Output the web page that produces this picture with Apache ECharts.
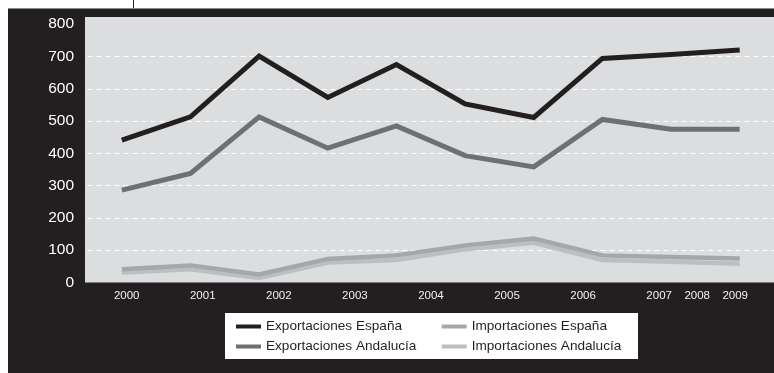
<!DOCTYPE html>
<html>
<head>
<meta charset="utf-8">
<script src="https://cdn.jsdelivr.net/npm/echarts@6/dist/echarts.min.js"></script>
<style>
  html, body { margin: 0; padding: 0; background: #fff; }
  #chart { width: 774px; height: 373px; }
</style>
</head>
<body>
<div id="chart"></div>
<script>
// datos (miles de millones aprox.)
const years = ['2000', '2001', '2002', '2003', '2004', '2005', '2006', '2007', '2008', '2009'];
const exportEspana = [441, 513, 701, 573, 675, 553, 511, 694, 706, 720];
const exportAndalucia = [286, 338, 513, 416, 485, 393, 358, 505, 475, 475];
const importEspana = [41, 53, 25, 73, 84, 115, 136, 84, 79, 74];
const importAndalucia = [31, 41, 14, 62, 70, 103, 123, 70, 64, 58];
const yearTicks = ['2000', '2001', '2002', '2003', '2004', '2005', '2006', '2007', '2008', '2009'];

// the year labels in the original sit on their own uneven grid
const tickSlots = [0, 2, 4, 6, 8, 10, 12, 14, 15, 16];
const tickAxisData = new Array(17).fill('');
tickSlots.forEach((s, i) => { tickAxisData[s] = yearTicks[i]; });

const DARK = '#231f20';
const font = 'Liberation Sans, Arial, sans-serif';

const chart = echarts.init(document.getElementById('chart'));

function serie(name, data, color, width) {
    return {
        name: name,
        type: 'line',
        data: data,
        symbol: 'none',
        color: color,
        lineStyle: { color: color, width: width, join: 'miter' }
    };
}

function leyenda(left, names) {
    return {
        orient: 'vertical',
        left: left,
        top: 318.5,
        padding: 0,
        itemWidth: 25,
        itemHeight: 4,
        itemGap: 4,
        icon: 'rect',
        textStyle: { color: DARK, fontSize: 13.6, fontFamily: font, lineHeight: 16 },
        data: names
    };
}

const option = {
    animation: false,
    backgroundColor: '#fff',
    graphic: {
        z: -10,
        elements: [
            { type: 'rect', z: -10, shape: { x: 8, y: 8, width: 770, height: 370 }, style: { fill: DARK } },
            { type: 'line', z: -10, shape: { x1: 8, y1: 8.5, x2: 774, y2: 8.5 }, style: { stroke: '#8a8a8a', lineWidth: 1 } },
            { type: 'line', z: -10, shape: { x1: 133.5, y1: 0, x2: 133.5, y2: 8 }, style: { stroke: DARK, lineWidth: 1 } },
            { type: 'rect', z: -10, shape: { x: 85, y: 17, width: 700, height: 265.5 }, style: { fill: '#dcdddf' } },
            { type: 'rect', z: -10, shape: { x: 225, y: 313, width: 413, height: 46 }, style: { fill: '#fff' } }
        ]
    },
    grid: [
        { left: 87.5, width: 689, top: 24.2, height: 258.3 },
        { left: 126.7, width: 608.5, top: 24.2, height: 258.3 }
    ],
    xAxis: [
        {
            type: 'category',
            gridIndex: 0,
            data: years,
            boundaryGap: true,
            axisLine: { show: false },
            axisTick: { show: false },
            axisLabel: { show: false }
        },
        {
            type: 'category',
            gridIndex: 1,
            data: tickAxisData,
            boundaryGap: false,
            axisLine: { show: false },
            axisTick: { show: false },
            axisLabel: { interval: 0, color: '#f2f2f2', fontSize: 11.5, fontFamily: font, margin: 7 }
        }
    ],
    yAxis: [
        {
            type: 'value',
            gridIndex: 0,
            min: 0,
            max: 800,
            interval: 100,
            axisLine: { show: false },
            axisTick: { show: false },
            axisLabel: { color: '#fff', fontSize: 15.5, fontFamily: font, margin: 13.5 },
            splitLine: {
                show: true,
                lineStyle: {
                    color: ['transparent', '#fff', '#fff', '#fff', '#fff', '#fff', '#fff', '#fff', 'transparent'],
                    type: [5, 4],
                    width: 1
                }
            }
        },
        { type: 'value', gridIndex: 1, show: false, min: 0, max: 800 }
    ],
    legend: [
        leyenda(236, ['Exportaciones España', 'Exportaciones Andalucía']),
        leyenda(441.7, ['Importaciones España', 'Importaciones Andalucía'])
    ],
    series: [
        serie('Importaciones Andalucía', importAndalucia, '#bdbec1', 4.5),
        serie('Importaciones España', importEspana, '#a6a7aa', 4.5),
        serie('Exportaciones Andalucía', exportAndalucia, '#6f7072', 5),
        serie('Exportaciones España', exportEspana, DARK, 5)
    ]
};
option && chart.setOption(option);
</script>
</body>
</html>
